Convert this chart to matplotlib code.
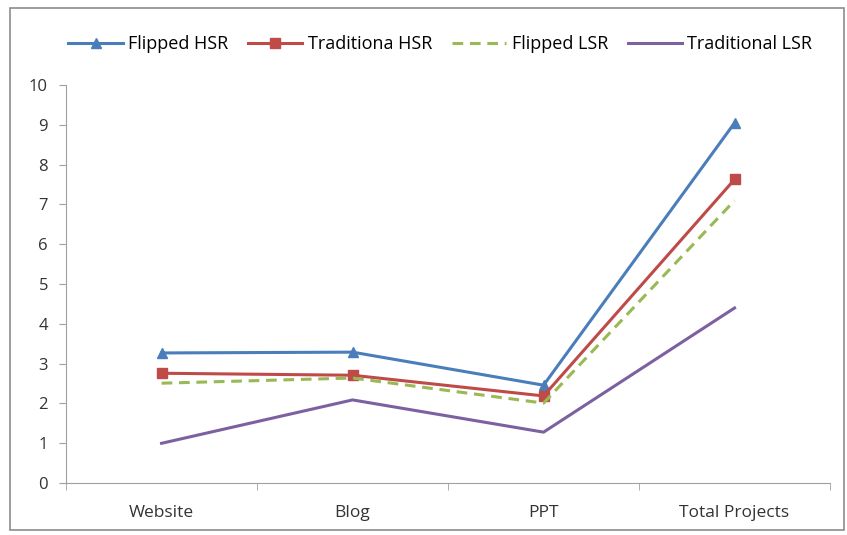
import matplotlib
matplotlib.use("Agg")
import matplotlib.pyplot as plt
from matplotlib.patches import Rectangle

categories = ["Website", "Blog", "PPT", "Total Projects"]
flipped_hsr = [3.27, 3.29, 2.46, 9.05]
traditiona_hsr = [2.76, 2.71, 2.19, 7.63]
flipped_lsr = [2.51, 2.64, 2.01, 7.1]
traditional_lsr = [1.0, 2.09, 1.28, 4.4]
y_ticks = list(range(0, 11))

plt.rcParams["font.family"] = ["Open Sans", "DejaVu Sans"]

fig = plt.figure(figsize=(8.47, 5.35), dpi=100)
ax = fig.add_axes([0.078, 0.097, 0.902, 0.744])

# chart border
fig.patches.append(Rectangle((0.012, 0.01), 0.985, 0.975, transform=fig.transFigure,
                             fill=False, edgecolor="#8c8c8c", linewidth=1.2))

x = list(range(len(categories)))
ax.plot(x, flipped_hsr, color="#4A7EBB", lw=2.2, marker="^", ms=7, label="Flipped HSR")
ax.plot(x, traditiona_hsr, color="#BE4B48", lw=2.2, marker="s", ms=7, label="Traditiona HSR")
ax.plot(x, flipped_lsr, color="#98B954", lw=2.2, ls=(0, (3.5, 2.2)), label="Flipped LSR")
ax.plot(x, traditional_lsr, color="#7D60A0", lw=2.2, label="Traditional LSR")

ax.set_xlim(-0.5, len(categories) - 0.5)
ax.set_ylim(0, 10)
ax.set_yticks(y_ticks)
ax.set_xticks(x)
ax.set_xticklabels(categories)
ax.set_xticks([i + 0.5 for i in range(-1, len(categories))], minor=True)
ax.tick_params(axis="x", which="major", length=0, pad=16, labelsize=12.5, colors="#333333")
ax.tick_params(axis="x", which="minor", length=5, color="#a0a0a0")
ax.tick_params(axis="y", length=5, color="#a0a0a0", labelsize=12, labelcolor="#333333", pad=8)

for side in ["top", "right"]:
    ax.spines[side].set_visible(False)
ax.spines["left"].set_color("#a0a0a0")
ax.spines["bottom"].set_color("#a0a0a0")

fig.legend(loc="center", bbox_to_anchor=(0.52, 0.918), ncol=4, frameon=False,
           fontsize=13, handlelength=3.0, columnspacing=1.1, handletextpad=0.3)

fig.savefig("out.png", dpi=100)
